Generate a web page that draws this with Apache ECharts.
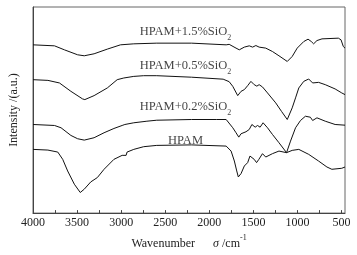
<!DOCTYPE html>
<html>
<head>
<meta charset="utf-8">
<script src="https://cdn.jsdelivr.net/npm/echarts@6/dist/echarts.min.js"></script>
<style>
  html, body { margin: 0; padding: 0; background: #fff; }
  #chart { width: 357px; height: 255px; }
</style>
</head>
<body>
<div id="chart"></div>
<script>
// FTIR spectra, wavenumber (cm-1) vs intensity (a.u., curves offset)
const seriesNames = ['HPAM+1.5%SiO2', 'HPAM+0.5%SiO2', 'HPAM+0.2%SiO2', 'HPAM']

const sio2_15 = [
  [4000, 169], [3756, 168], [3644, 164], [3494, 159], [3419, 158], [3307, 160],
  [3157, 164.7], [3008, 169], [2857, 170], [2596, 170.7], [2202, 170.7], [1809, 169],
  [1775, 169.5], [1697, 165.7], [1660, 164], [1603, 166.7], [1547, 168], [1509, 166.7],
  [1472, 168.3], [1435, 166.7], [1360, 165.7], [1284, 162.3], [1210, 158], [1116, 152.3],
  [1060, 157.3], [1003, 165.7], [929, 172.3], [880, 174.7], [843, 172.3], [817, 170],
  [779, 173.3], [722, 175], [536, 175.7], [506, 174], [480, 167.3], [461, 165.7]
]

const sio2_05 = [
  [4000, 134], [3831, 133.3], [3700, 130.7], [3570, 122.3], [3438, 114.7], [3412, 114],
  [3307, 118], [3157, 125.7], [3045, 134], [2970, 135.7], [2857, 137.3], [2745, 138],
  [2596, 138], [2202, 136.5], [1843, 134.5], [1775, 132], [1734, 127.3], [1678, 118],
  [1640, 122.3], [1603, 124], [1565, 128], [1528, 132.3], [1491, 129], [1461, 127.5],
  [1435, 129], [1397, 126.7], [1340, 120.7], [1247, 110.7], [1180, 102], [1116, 94],
  [1060, 105.7], [1022, 115.7], [985, 125.7], [929, 132.3], [873, 134.7], [828, 130.7],
  [806, 129], [761, 131.3], [685, 129], [573, 124.7], [498, 120.7], [461, 119]
]

const sio2_02 = [
  [4000, 89], [3756, 88], [3682, 85.7], [3570, 78], [3494, 74.7], [3419, 73.3],
  [3307, 75.7], [3194, 80.7], [3082, 85], [2989, 88], [2958, 89], [2944, 88.5],
  [2857, 90.7], [2708, 92.3], [2596, 93.3], [2202, 94], [1921, 94], [1809, 94],
  [1734, 85.7], [1697, 80.7], [1666, 76.3], [1640, 79.7], [1584, 81.7], [1547, 84],
  [1517, 89], [1480, 86.3], [1453, 88], [1424, 86.3], [1390, 90.7], [1340, 85.7],
  [1284, 79], [1210, 70.7], [1124, 60.7], [1079, 72.3], [1022, 85.7], [966, 93],
  [910, 97.3], [854, 96.3], [828, 93], [779, 95.7], [685, 92.3], [573, 89], [461, 88.3]
]

const hpam = [
  [4000, 64], [3831, 63.3], [3719, 61.3], [3663, 54], [3607, 42.3], [3531, 29],
  [3464, 20.7], [3419, 24], [3345, 31.3], [3270, 35.7], [3194, 44], [3082, 54],
  [2989, 58], [2944, 58], [2933, 61.3], [2857, 64], [2745, 66.7], [2596, 68],
  [2202, 68.5], [1809, 67.3], [1753, 62.3], [1716, 52.3], [1689, 42.3], [1671, 36.3],
  [1640, 39.7], [1603, 47.3], [1565, 50.7], [1539, 57.3], [1517, 59], [1491, 54],
  [1464, 50.7], [1438, 54], [1397, 59.7], [1360, 56.3], [1284, 59.7], [1210, 62.3],
  [1124, 60.7], [1060, 63], [985, 64], [873, 59], [761, 52.3], [666, 46.3],
  [610, 44], [498, 45], [461, 46.3]
]

// curve labels: text and anchor point (wavenumber, intensity)
const labelTexts = ['{m|HPAM+1.5%SiO}{sub|2}', '{m|HPAM+0.5%SiO}{sub|2}', '{m|HPAM+0.2%SiO}{sub|2}', '{m|HPAM}']
const labelX = [2270, 2270, 2270, 2270]
const labelY = [180, 146, 105, 71]

const xLabelValues = [4000, 3500, 3000, 2500, 2000, 1500, 1000, 500]
const xTickValues = [4000, 3750, 3500, 3250, 3000, 2750, 2500, 2250, 2000, 1750, 1500, 1250, 1000, 750, 500]

const chart = echarts.init(document.getElementById('chart'))
const font = 'Liberation Serif'
const axisColor = '#444'

const curves = [sio2_15, sio2_05, sio2_02, hpam]

const option = {
  backgroundColor: '#fff',
  animation: false,
  grid: {
    left: 30,
    right: 12,
    top: 7,
    bottom: 41,
    show: true,
    borderColor: '#666',
    borderWidth: 1,
  },
  xAxis: {
    type: 'value',
    inverse: true,
    min: 461,
    max: 4000,
    name: '{n|Wavenumber}      {s|σ}{n| /cm}{sup|-1}',
    nameLocation: 'middle',
    nameGap: 20,
    nameTextStyle: {
      fontFamily: font,
      fontSize: 12,
      color: '#222',
      rich: {
        n: { fontFamily: font, fontSize: 12, color: '#222', lineHeight: 16, verticalAlign: 'bottom' },
        s: { fontFamily: font, fontSize: 12, fontStyle: 'italic', color: '#222', lineHeight: 16, verticalAlign: 'bottom' },
        sup: { fontFamily: font, fontSize: 8, color: '#222', lineHeight: 16, verticalAlign: 'top' },
      },
    },
    axisLine: { show: true, lineStyle: { color: axisColor, width: 1 } },
    axisTick: {
      show: true,
      inside: true,
      length: 3,
      customValues: xTickValues,
      lineStyle: { color: axisColor },
    },
    axisLabel: {
      customValues: xLabelValues,
      formatter: (v) => String(v),
      fontFamily: font,
      fontSize: 12,
      color: '#222',
      margin: 4,
    },
    splitLine: { show: false },
  },
  yAxis: {
    type: 'value',
    min: 0,
    max: 207,
    name: 'Intensity /(a.u.)',
    nameLocation: 'middle',
    nameGap: 13,
    nameTextStyle: { fontFamily: font, fontSize: 12, color: '#222' },
    axisLine: { show: true, lineStyle: { color: axisColor, width: 1 } },
    axisTick: { show: false },
    axisLabel: { show: false },
    splitLine: { show: false },
  },
  series: [
    ...curves.map((d, i) => ({
      name: seriesNames[i],
      type: 'line',
      data: d,
      symbol: 'none',
      lineStyle: { color: '#111', width: 1 },
    })),
    {
      name: 'labels',
      type: 'scatter',
      symbolSize: 0,
      data: labelX.map((x, i) => ({ value: [x, labelY[i]], text: labelTexts[i] })),
      label: {
        show: true,
        position: 'inside',
        formatter: (p) => p.data.text,
        fontFamily: font,
        fontSize: 12.5,
        color: '#111',
        rich: {
          m: { fontFamily: font, fontSize: 12.5, color: '#111', lineHeight: 17, verticalAlign: 'top' },
          sub: { fontFamily: font, fontSize: 8, color: '#111', lineHeight: 8, verticalAlign: 'bottom' },
        },
      },
    },
  ],
}

chart.setOption(option)
</script>
</body>
</html>
